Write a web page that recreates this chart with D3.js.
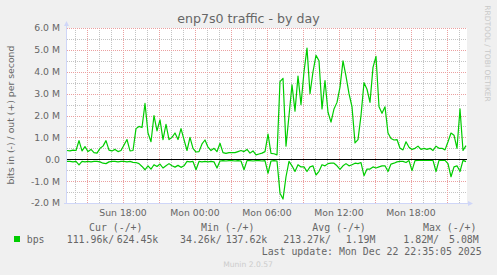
<!DOCTYPE html>
<html><head><meta charset="utf-8">
<script src="https://cdn.jsdelivr.net/npm/d3@7"></script>
<style>
html,body{margin:0;padding:0;background:#F0F0F0;}
svg{display:block;}
</style></head>
<body>
<svg id="chart" width="497" height="275"></svg>
<script>
// ---------- DATA ----------
const title = "enp7s0 traffic - by day";
const yAxisLabel = "bits in (-) / out (+) per second";
const startTime = new Date(2025, 11, 21, 13, 20);   // Sun Dec 21 13:20
const endTime = new Date(2025, 11, 22, 22, 40);     // Mon Dec 22 22:40
const stepMinutes = 15;
// out (+) traffic, Mbit/s
const outValues = [
 0.40,0.38,0.42,0.40,0.85,0.38,0.58,0.35,0.45,0.30,0.28,0.50,0.60,0.85,0.42,0.38,0.45,0.35,0.40,0.65,
 0.90,0.38,0.40,1.40,1.50,1.45,2.55,1.20,0.80,2.00,1.30,1.80,0.90,1.60,0.90,1.00,1.20,0.90,1.40,0.90,
 0.40,1.00,0.50,0.33,0.35,0.70,0.88,0.55,0.40,0.50,0.35,0.73,0.30,0.27,0.30,0.30,0.30,0.35,0.40,0.35,
 0.45,0.28,0.38,0.20,0.24,0.28,0.35,1.15,0.27,0.25,0.20,3.55,3.70,0.60,2.00,3.40,2.20,3.80,2.50,4.00,
 5.08,3.00,4.00,4.75,4.50,2.30,3.60,2.15,1.70,2.30,2.60,3.30,4.50,3.80,3.00,2.40,0.75,0.90,2.00,3.50,
 3.20,2.60,4.20,4.70,2.40,2.10,2.40,1.20,0.95,0.88,0.90,0.50,0.43,0.80,0.55,0.45,0.50,0.60,0.45,0.50,
 0.45,0.50,0.40,0.60,0.50,0.50,0.43,0.80,1.20,1.10,0.50,2.30,0.40,0.62
];
// in (-) traffic, Mbit/s (drawn below zero)
const inValues = [
 0.10,0.10,0.12,0.10,0.26,0.10,0.12,0.10,0.12,0.10,0.10,0.12,0.18,0.20,0.12,0.10,0.10,0.12,0.10,0.10,
 0.12,0.10,0.14,0.15,0.20,0.33,0.48,0.30,0.45,0.25,0.33,0.22,0.40,0.30,0.20,0.30,0.36,0.28,0.37,0.30,
 0.10,0.12,0.10,0.48,0.10,0.12,0.10,0.12,0.10,0.12,0.40,0.08,0.06,0.08,0.06,0.06,0.08,0.06,0.08,0.48,
 0.06,0.06,0.08,0.06,0.06,0.08,0.06,0.64,0.08,0.06,0.08,1.55,1.82,0.80,0.10,0.30,0.56,0.25,0.35,0.35,
 0.56,0.35,0.30,0.72,0.55,0.25,0.30,0.20,0.18,0.18,0.30,0.46,0.30,0.20,0.30,0.25,0.18,0.20,0.15,0.75,
 0.45,0.45,0.35,0.40,0.35,0.30,0.30,0.56,0.22,0.18,0.12,0.10,0.10,0.15,0.06,0.52,0.06,0.05,0.05,0.05,
 0.05,0.05,0.05,0.56,0.05,0.05,0.05,0.20,0.80,0.35,0.30,0.56,0.05,0.11
];
const yTickValues = [6,5,4,3,2,1,0,-1,-2];
const yTickLabels = ["6.0 M","5.0 M","4.0 M","3.0 M","2.0 M","1.0 M","0.0","-1.0 M","-2.0 M"];
const xLabelTimes = [new Date(2025,11,21,18), new Date(2025,11,22,0), new Date(2025,11,22,6), new Date(2025,11,22,12), new Date(2025,11,22,18)];
const xLabels = ["Sun 18:00","Mon 00:00","Mon 06:00","Mon 12:00","Mon 18:00"];
const legendHeaders = ["Cur (-/+)","Min (-/+)","Avg (-/+)","Max (-/+)"];
const seriesName = "bps";
const legendIn = ["111.96k/","34.26k/","213.27k/","1.82M/"];
const legendOut = ["624.45k","137.62k","1.19M","5.08M"];
const lastUpdate = "Last update: Mon Dec 22 22:35:05 2025";
const rrdText = "RRDTOOL / TOBI OETIKER";
const muninText = "Munin 2.0.57";

// ---------- CHART ----------
const svg = d3.select("#chart");
const L = 67, R = 467, T = 28, B = 203;
const x = d3.scaleTime().domain([startTime, endTime]).range([L, R]);
const y = d3.scaleLinear().domain([-2, 6]).range([B, T]);
const font = "'DejaVu Sans', Verdana, sans-serif";
const mono = "'DejaVu Sans Mono', monospace";
const fontColor = "#666666";
const axisColor = "#CFD6F8";

svg.append("rect").attr("width",497).attr("height",275).attr("fill","#F0F0F0");
svg.append("rect").attr("x",L).attr("y",T).attr("width",R-L).attr("height",B-T).attr("fill","#FFFFFF");

const px = v => Math.round(v) + 0.5;
// minor grid (hourly / 0.5M)
const hours = d3.timeHour.range(startTime, endTime);
const minorY = d3.range(-2, 6.01, 0.5);
const grid = svg.append("g").attr("shape-rendering","crispEdges");
grid.selectAll(".vx").data(hours.filter(d => d.getHours() % 3 !== 0)).enter().append("line")
  .attr("x1", d => px(x(d))).attr("x2", d => px(x(d))).attr("y1", T).attr("y2", B)
  .attr("stroke","#C4C4C4").attr("stroke-dasharray","1,1");
grid.selectAll(".hy").data(minorY.filter(v => v % 1 !== 0)).enter().append("line")
  .attr("x1", L).attr("x2", R).attr("y1", d => px(y(d))).attr("y2", d => px(y(d)))
  .attr("stroke","#C4C4C4").attr("stroke-dasharray","1,1");
// major grid (3 hours / 1M)
grid.selectAll(".mx").data(hours.filter(d => d.getHours() % 3 === 0)).enter().append("line")
  .attr("x1", d => px(x(d))).attr("x2", d => px(x(d))).attr("y1", T).attr("y2", B)
  .attr("stroke","#EBA0A0").attr("stroke-dasharray","1,1");
grid.selectAll(".my").data(yTickValues.filter(v => v !== -2)).enter().append("line")
  .attr("x1", L).attr("x2", R).attr("y1", d => px(y(d))).attr("y2", d => px(y(d)))
  .attr("stroke","#EBA0A0").attr("stroke-dasharray","1,1");

// series
const timeAt = i => d3.timeMinute.offset(startTime, i * stepMinutes);
const line = d3.line().x((d,i) => x(timeAt(i))).y(d => y(d));
svg.append("path").datum(inValues.map(v => -v)).attr("d", line)
  .attr("fill","none").attr("stroke","#00CC00").attr("stroke-width",1.2).attr("stroke-linejoin","round");
svg.append("path").datum(outValues).attr("d", line)
  .attr("fill","none").attr("stroke","#00CC00").attr("stroke-width",1.2).attr("stroke-linejoin","round");

// zero line
svg.append("line").attr("x1",L).attr("x2",R).attr("y1",px(y(0))).attr("y2",px(y(0)))
  .attr("stroke","#000").attr("stroke-width",1).attr("shape-rendering","crispEdges");

// axes
svg.append("line").attr("x1",L-0.5).attr("x2",L-0.5).attr("y1",T-3).attr("y2",B+0.5)
  .attr("stroke",axisColor).attr("shape-rendering","crispEdges");
svg.append("line").attr("x1",L-3).attr("x2",R+3).attr("y1",B+0.5).attr("y2",B+0.5)
  .attr("stroke",axisColor).attr("shape-rendering","crispEdges");
svg.append("path").attr("d",`M${L-3},${T-2} L${L+2},${T-2} L${L-0.5},${T-7} Z`).attr("fill",axisColor);
svg.append("path").attr("d",`M${R+1},${B-2} L${R+1},${B+3} L${R+6},${B+0.5} Z`).attr("fill",axisColor);

// tick labels
svg.append("g").selectAll("text").data(yTickValues).enter().append("text")
  .attr("x", 60).attr("y", d => y(d) + 3.4).attr("text-anchor","end")
  .attr("font-family",font).attr("font-size","9.3px").attr("fill",fontColor)
  .text((d,i) => yTickLabels[i]);
svg.append("g").selectAll("text").data(xLabelTimes).enter().append("text")
  .attr("x", d => x(d)).attr("y", 215.5).attr("text-anchor","middle")
  .attr("font-family",font).attr("font-size","9.3px").attr("fill",fontColor)
  .text((d,i) => xLabels[i]);

// title and labels
svg.append("text").attr("x",248.5).attr("y",23).attr("text-anchor","middle")
  .attr("font-family",font).attr("font-size","12.6px").attr("fill",fontColor).text(title);
svg.append("text").attr("transform","translate(13.5,115) rotate(-90)").attr("text-anchor","middle")
  .attr("font-family",font).attr("font-size","9.3px").attr("fill",fontColor).text(yAxisLabel);
svg.append("text").attr("transform","translate(485,53.5) rotate(90)").attr("text-anchor","middle")
  .attr("font-family",font).attr("font-size","7.5px").attr("fill","#C8C8C8").text(rrdText);
svg.append("text").attr("x",248).attr("y",267).attr("text-anchor","middle")
  .attr("font-family",font).attr("font-size","7.6px").attr("fill","#CCCCCC").text(muninText);

// legend
const headerX = [89, 201, 312.3, 423];
const inX = [66.7, 180, 283.3, 403.3];
const outX = [116.7, 225.7, 345.7, 449];
const leg = svg.append("g").attr("font-family",mono).attr("font-size","9.9px").attr("fill",fontColor);
leg.selectAll(".h").data(legendHeaders).enter().append("text")
  .attr("x",(d,i)=>headerX[i]).attr("y",231).text(d=>d);
svg.append("rect").attr("x",14).attr("y",236).attr("width",6).attr("height",6).attr("fill","#00CC00");
leg.append("text").attr("x",26.7).attr("y",242.5).text(seriesName);
leg.selectAll(".i").data(legendIn).enter().append("text")
  .attr("x",(d,i)=>inX[i]).attr("y",242.5).text(d=>d);
leg.selectAll(".o").data(legendOut).enter().append("text")
  .attr("x",(d,i)=>outX[i]).attr("y",242.5).text(d=>d);
leg.append("text").attr("x",261.7).attr("y",254.5).text(lastUpdate);
</script>
</body></html>
